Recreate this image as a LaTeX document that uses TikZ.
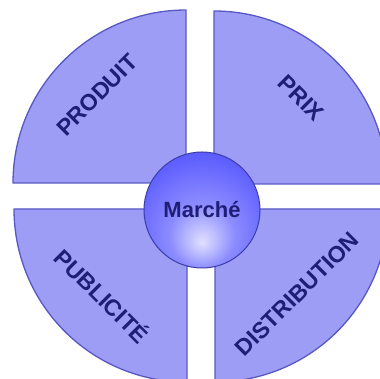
\documentclass[tikz,border=0pt]{standalone}
\usepackage{fontspec}
\setmainfont{Liberation Sans}
\usepackage{tikz}
\definecolor{quadfill}{RGB}{157,157,246}
\definecolor{quadline}{RGB}{88,88,196}
\definecolor{labelblue}{RGB}{30,30,118}
\definecolor{ballline}{RGB}{60,60,170}
\pgfdeclareradialshading{marcheshade}{\pgfpoint{0bp}{-14bp}}{%
  color(0bp)=(white!88!blue);
  color(14bp)=(white!55!blue);
  color(30bp)=(white!38!blue);
  color(48bp)=(white!25!blue);
  color(70bp)=(white!20!blue)}
\tikzstyle{quadrant}=[fill=quadfill, draw=quadline, line width=1.3pt, line join=round]
\tikzstyle{quad_label}=[text=labelblue, font=\bfseries\fontsize{23}{23}\selectfont]
\tikzstyle{ball}=[circle, minimum size=116pt, shading=marcheshade, draw=ballline, line width=1pt, text=labelblue, font=\bfseries\fontsize{22}{22}\selectfont]

\begin{document}
\begin{tikzpicture}[x=1pt, y=1pt]
\useasboundingbox (0,0) rectangle (380,379);
\clip (0,0) rectangle (380,379);
\draw[quadrant] (186,196) -- ++(-173,0) arc[start angle=180, end angle=90, radius=173] -- cycle;
\draw[quadrant] (214,195) -- ++(0,173) arc[start angle=90, end angle=0, radius=173] -- cycle;
\draw[quadrant] (187,170) -- ++(-173,0) arc[start angle=180, end angle=270, radius=173] -- cycle;
\draw[quadrant] (215,170) -- ++(0,-173) arc[start angle=270, end angle=360, radius=173] -- cycle;
\node[quad_label, rotate=45] (produit) at (97,284){PRODUIT};
\node[quad_label, rotate=-45] (prix) at (301,281){PRIX};
\node[quad_label, rotate=-45] (publicite) at (103,84){PUBLICITÉ};
\node[quad_label, rotate=45] (distribution) at (297,85){DISTRIBUTION};
\node[ball] (marche) at (202,169){Marché};
\end{tikzpicture}
\end{document}
